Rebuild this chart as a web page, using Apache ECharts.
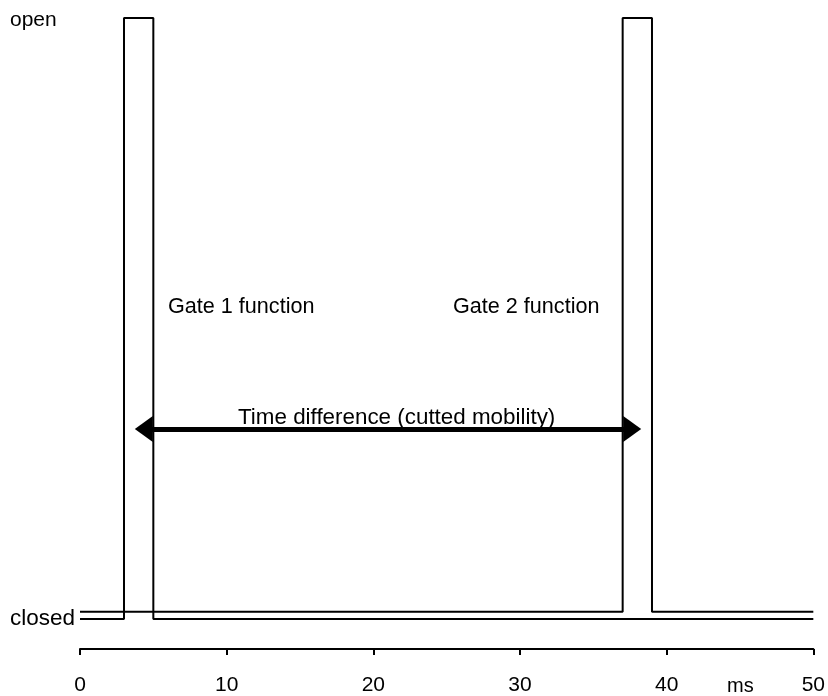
<!DOCTYPE html>
<html>
<head>
<meta charset="utf-8">
<script src="https://cdn.jsdelivr.net/npm/echarts@6/dist/echarts.min.js"></script>
<style>
html,body{margin:0;padding:0;background:#fff;}
#chart{width:828px;height:696px;}
</style>
</head>
<body>
<div id="chart"></div>
<script>
// Data
var gate1X = [0, 3, 3, 5, 5, 50];
var gate1Y = [0, 0, 100, 100, 0, 0];
var gate2X = [0, 37, 37, 39, 39, 50];
var gate2Y = [1.2, 1.2, 100, 100, 1.2, 1.2];
var arrowX = [4.35, 37.65];
var arrowY = 31.6;
var xTicks = [0, 10, 20, 30, 40, 50];
var yLabels = {0: '{c|closed}', 100: '{o|open}'};
var texts = ['Gate 1 function', 'Gate 2 function', 'Time difference (cutted mobility)', 'ms'];

function pairs(xs, ys) { return xs.map(function (x, i) { return [x, ys[i]]; }); }

var FONT = 'Liberation Sans, Arial, sans-serif';
var chart = echarts.init(document.getElementById('chart'));
chart.setOption({
  animation: false,
  backgroundColor: '#fff',
  grid: {left: 80, right: 14, top: 18, bottom: 76},
  xAxis: {
    type: 'value', min: xTicks[0], max: xTicks[xTicks.length - 1], interval: 10,
    offset: 30,
    axisLine: {show: true, onZero: false, lineStyle: {color: '#000', width: 2}},
    axisTick: {show: true, length: 6, lineStyle: {color: '#000', width: 2}},
    splitLine: {show: false},
    axisLabel: {color: '#000', fontSize: 21, fontFamily: FONT, margin: 26}
  },
  yAxis: {
    type: 'value', min: 0, max: 100, interval: 50,
    axisLine: {show: false}, axisTick: {show: false}, splitLine: {show: false},
    axisLabel: {
      color: '#000', fontSize: 20, fontFamily: FONT, align: 'left', margin: 70,
      formatter: function (v) { return yLabels[v] || ''; },
      rich: {
        c: {fontSize: 22.5, fontFamily: FONT, color: '#000'},
        o: {fontSize: 21, fontFamily: FONT, color: '#000', padding: [4, 0, 0, 0]}
      }
    }
  },
  graphic: [
    {type: 'text', x: 168, y: 307, style: {text: texts[0], fill: '#000', font: '21.6px ' + FONT, verticalAlign: 'middle'}},
    {type: 'text', x: 453, y: 307, style: {text: texts[1], fill: '#000', font: '21.6px ' + FONT, verticalAlign: 'middle'}},
    {type: 'text', x: 238, y: 418, style: {text: texts[2], fill: '#000', font: '22.4px ' + FONT, verticalAlign: 'middle'}},
    {type: 'text', x: 727, y: 686, style: {text: texts[3], fill: '#000', font: '20px ' + FONT, verticalAlign: 'middle'}}
  ],
  series: [
    {
      type: 'line', data: pairs(gate1X, gate1Y), showSymbol: false, symbol: 'none',
      lineStyle: {color: '#000', width: 2}, z: 3,
      markLine: {
        silent: true, symbol: ['triangle', 'triangle'], symbolSize: [26, 18],
        lineStyle: {color: '#000', width: 5, type: 'solid'},
        itemStyle: {color: '#000'},
        label: {show: false},
        data: [[{coord: [arrowX[0], arrowY]}, {coord: [arrowX[1], arrowY]}]]
      }
    },
    {
      type: 'line', data: pairs(gate2X, gate2Y), showSymbol: false, symbol: 'none',
      lineStyle: {color: '#000', width: 2}, z: 3
    }
  ]
});
</script>
</body>
</html>
